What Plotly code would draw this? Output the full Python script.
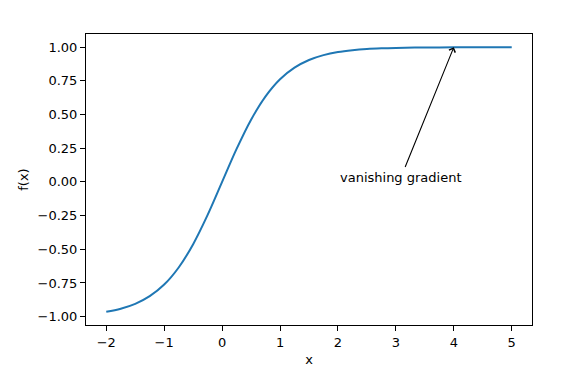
import plotly.graph_objects as go

# Data
x_vals = [-2.0, -1.75, -1.5, -1.25, -1.0, -0.75, -0.5, -0.25, 0.0, 0.25, 0.5, 0.75,
          1.0, 1.25, 1.5, 1.75, 2.0, 2.25, 2.5, 2.75, 3.0, 3.5, 4.0, 4.5, 5.0]
y_vals = [-0.964, -0.941, -0.905, -0.848, -0.762, -0.635, -0.462, -0.245, 0.0, 0.245,
          0.462, 0.635, 0.762, 0.848, 0.905, 0.941, 0.964, 0.978, 0.987, 0.992, 0.995,
          0.998, 0.999, 1.0, 1.0]

x_ticks = [-2, -1, 0, 1, 2, 3, 4, 5]
x_tick_labels = ["\u22122", "\u22121", "0", "1", "2", "3", "4", "5"]
y_ticks = [-1.0, -0.75, -0.5, -0.25, 0.0, 0.25, 0.5, 0.75, 1.0]
y_tick_labels = ["\u22121.00", "\u22120.75", "\u22120.50", "\u22120.25", "0.00",
                 "0.25", "0.50", "0.75", "1.00"]

annot_text = "vanishing gradient"
annot_text_xy = (2.0, 0.0)
annot_point_xy = (4.0, 1.0)

FONT = "DejaVu Sans"

fig = go.Figure()
fig.add_trace(go.Scatter(x=x_vals, y=y_vals, mode="lines",
                         line=dict(color="#1f77b4", width=2, shape="spline"),
                         showlegend=False, hoverinfo="skip"))

xr = [-2.35, 5.35]
yr = [-1.062, 1.098]

# text (left aligned, baseline at y)
fig.add_annotation(x=annot_text_xy[0], y=annot_text_xy[1], xref="x", yref="y",
                   text=annot_text, showarrow=False, xanchor="left", yanchor="bottom",
                   yshift=-5, font=dict(family=FONT, size=13, color="black"))
# arrow from text top-center to the point
fig.add_annotation(x=annot_point_xy[0], y=annot_point_xy[1], xref="x", yref="y",
                   ax=annot_text_xy[0] + 1.15, ay=annot_text_xy[1] + 0.1,
                   axref="x", ayref="y", text="", showarrow=True,
                   arrowhead=4, arrowsize=1.2, arrowwidth=1.1, arrowcolor="black",
                   standoff=0)

fig.update_layout(
    width=566, height=376,
    margin=dict(l=86, r=34, t=34, b=51),
    paper_bgcolor="white", plot_bgcolor="white",
    font=dict(family=FONT, size=13, color="black"),
    xaxis=dict(range=xr, tickvals=x_ticks, ticktext=x_tick_labels,
               showgrid=False, zeroline=False, showline=True, linecolor="black",
               linewidth=1, mirror=True, ticks="outside", ticklen=5, tickwidth=1,
               tickcolor="black",
               title=dict(text="x", standoff=6, font=dict(family=FONT, size=13))),
    yaxis=dict(range=yr, tickvals=y_ticks, ticktext=y_tick_labels,
               showgrid=False, zeroline=False, showline=True, linecolor="black",
               linewidth=1, mirror=True, ticks="outside", ticklen=5, tickwidth=1,
               tickcolor="black",
               title=dict(text="f(x)", standoff=6, font=dict(family=FONT, size=13))),
)

fig.write_html("out.html")
